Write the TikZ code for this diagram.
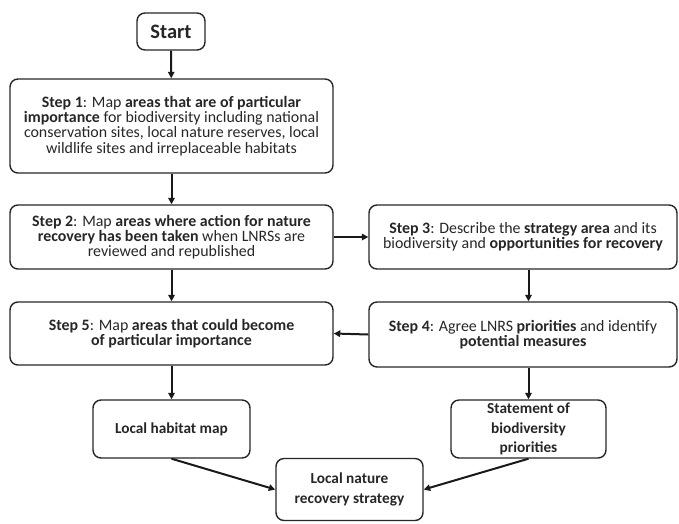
\documentclass[tikz,border=0pt]{standalone}
\usepackage{fontspec}
\setmainfont{Carlito}
\usetikzlibrary{arrows.meta}
\tikzset{
  box/.style={draw=black!85, line width=1.4pt, rounded corners=8pt, align=center, inner sep=1pt,
    font=\fontsize{15.9}{15.3}\selectfont, text=black!85},
  bbox/.style={box, font=\fontsize{15.3}{19.5}\selectfont\bfseries},
  conn/.style={line width=2pt, draw=black!90, -{Triangle[length=6.5pt,width=6.5pt]}}
}
\begin{document}
\begin{tikzpicture}[x=1pt,y=-1pt]
\useasboundingbox (0,0) rectangle (679,523);
\node[box, minimum width=68pt, minimum height=37pt, font=\fontsize{20.5}{24}\selectfont\bfseries] (start) at (171,31.5) {Start};
\node[box, minimum width=323pt, minimum height=94pt] (s1) at (171.5,126) {\textbf{Step 1}: Map \textbf{areas that are of particular}\\ \textbf{importance} for biodiversity including national\\ conservation sites, local nature reserves, local\\ wildlife sites and irreplaceable habitats};
\node[box, minimum width=323pt, minimum height=64pt] (s2) at (171.5,237) {\textbf{Step 2}: Map \textbf{areas where action for nature}\\ \textbf{recovery has been taken} when LNRSs are\\ reviewed and republished};
\node[box, minimum width=308pt, minimum height=64pt] (s3) at (523,237) {\textbf{Step 3}: Describe the \textbf{strategy area} and its\\ biodiversity and \textbf{opportunities for recovery}};
\node[box, minimum width=323pt, minimum height=63pt] (s5) at (171.5,333.5) {\textbf{Step 5}: Map \textbf{areas that could become}\\ \textbf{of particular importance}};
\node[box, minimum width=308pt, minimum height=65pt] (s4) at (523,334.5) {\textbf{Step 4}: Agree LNRS \textbf{priorities} and identify\\ \textbf{potential measures}};
\node[bbox, minimum width=157pt, minimum height=58pt] (hab) at (171.5,429) {Local habitat map};
\node[bbox, minimum width=155pt, minimum height=58pt] (stat) at (528.5,429) {Statement of\\ biodiversity\\ priorities};
\node[bbox, minimum width=147pt, minimum height=62pt] (lnrs) at (349.5,489.5) {Local nature\\ recovery strategy};
\draw[conn] (start) -- (s1);
\draw[conn] (s1) -- (s2);
\draw[conn] (s2) -- (s3);
\draw[conn] (s2.south) -- (s5.north);
\draw[conn] (s3.south -| stat.north) -- (s4.north -| stat.north);
\draw[conn] (s4.west) -- (s5.east);
\draw[conn] (s5.south) -- (hab.north);
\draw[conn] (s4.south -| stat.north) -- (stat.north);
\draw[conn] (hab.south) -- (lnrs.west);
\draw[conn] (stat.south) -- (lnrs.east);
\end{tikzpicture}
\end{document}
